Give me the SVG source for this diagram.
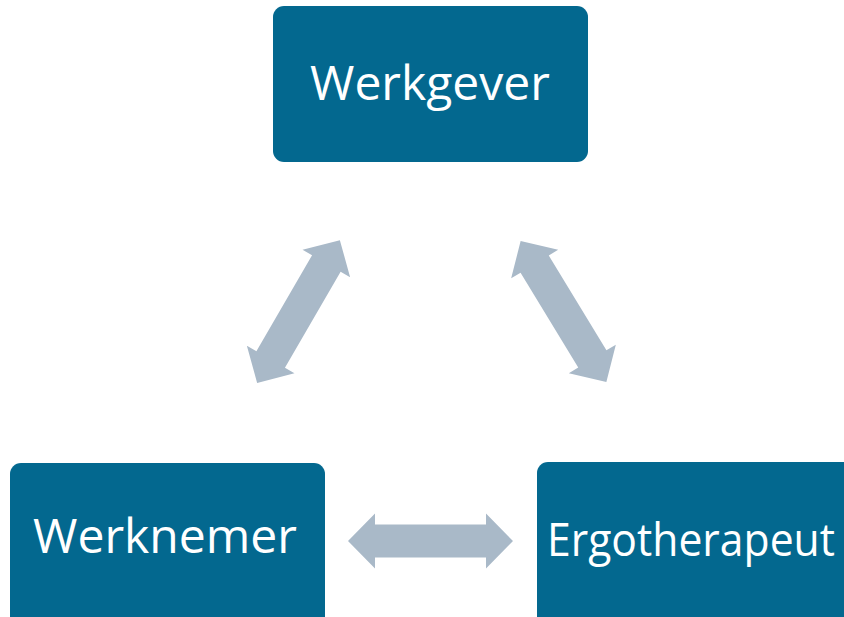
<svg xmlns="http://www.w3.org/2000/svg" xmlns:xlink="http://www.w3.org/1999/xlink" width="844" height="617" viewBox="0 0 844 617">
<style>
.box{fill:#03688F;}
.lbl{font-family:"Open Sans","Liberation Sans",sans-serif;font-size:47px;fill:#FFFFFF;}
.arr{fill:#A9B9C8;}
</style>
<defs>
<path id="dblarrow" d="M -82.5,0 L -55.5,-27.5 L -55.5,-16.5 L 55.5,-16.5 L 55.5,-27.5 L 82.5,0 L 55.5,27.5 L 55.5,16.5 L -55.5,16.5 L -55.5,27.5 Z"/>
</defs>
<rect width="844" height="617" fill="#FFFFFF"/>
<g id="connectors">
<use xlink:href="#dblarrow" class="arr" transform="translate(298.5,311.5) rotate(-59.9)"/>
<use xlink:href="#dblarrow" class="arr" transform="translate(563.5,311.5) rotate(58.7)"/>
<use xlink:href="#dblarrow" class="arr" transform="translate(430.5,541)"/>
</g>
<g id="werkgever">
<rect class="box" x="273" y="6" width="315" height="156" rx="11"/>
<text class="lbl" x="310" y="100" textLength="240" lengthAdjust="spacingAndGlyphs">Werkgever</text>
</g>
<g id="werknemer">
<rect class="box" x="10" y="463" width="315" height="170" rx="11"/>
<text class="lbl" x="33" y="553" textLength="264" lengthAdjust="spacingAndGlyphs">Werknemer</text>
</g>
<g id="ergotherapeut">
<rect class="box" x="537" y="462" width="330" height="170" rx="11"/>
<text class="lbl" x="547" y="556" style="font-size:45px" textLength="288" lengthAdjust="spacingAndGlyphs">Ergotherapeut</text>
</g>
</svg>
